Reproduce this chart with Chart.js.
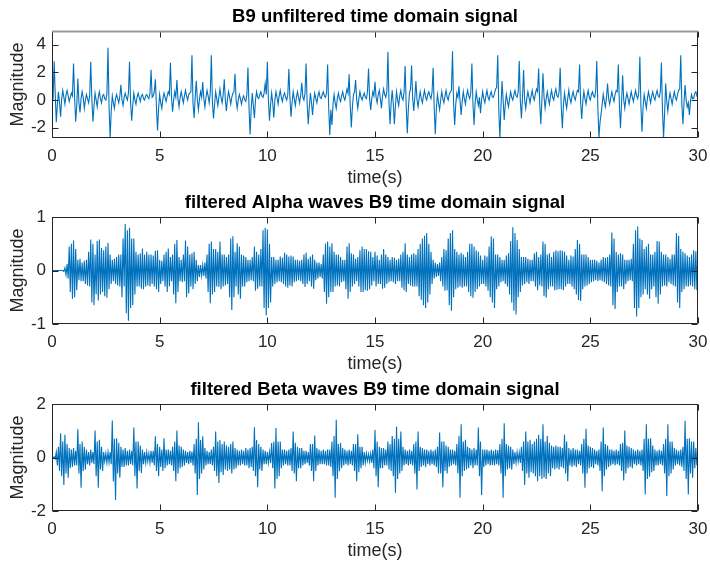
<!DOCTYPE html>
<html lang="en">
<head>
<meta charset="UTF-8">
<title>B9 time domain signals</title>
<script src="https://cdn.jsdelivr.net/npm/chart.js"></script>
<style>
  * { margin: 0; padding: 0; box-sizing: border-box; }
  body { width: 710px; height: 565px; background: #fff; position: relative; overflow: hidden; }
  canvas { position: absolute; left: 0; }
</style>
</head>
<body>
<canvas id="chartRaw" width="710" height="190" style="top:0px"></canvas>
<canvas id="chartAlpha" width="710" height="190" style="top:186px"></canvas>
<canvas id="chartBeta" width="710" height="190" style="top:373px"></canvas>

<script>
// values, one every 0.05 s from 0 to 30 s (one row = 1 s)
const sampleStep = 0.05;

const rawSignal = [
  0.3, 0.1, 2.8, 0.4, -1.6, -0.3, 0.6, -0.2, -1.2, 0.1, 0.7, 0.2, -0.3, 0.4, 0.7, 0.3, -0.1, 0.2, 0.5, 0.3,
  2.65, 0.2, -1.57, -0.4, 1.55, -0.2, -0.9, 0.1, 0.6, 0.2, -0.6, 0.0, 0.4, 0.1, -0.2, 0.3, 2.77, 0.1, -1.57, -0.5,
  0.5, 0.0, -0.5, 0.2, 0.6, 0.1, -0.2, 0.3, 0.4, 0.1, 0.0, 0.4, 3.78, -0.5, -2.75, -0.8, 0.3, -0.2, -0.6, 0.1,
  0.4, 0.1, -0.2, 0.3, 1.1, 0.0, -0.4, 0.2, 0.5, 0.2, 0.0, 0.5, 2.77, -0.2, -1.5, -0.4, 0.5, 0.0, -0.3, 0.2,
  0.5, 0.2, -0.1, 0.3, 0.4, 0.1, 0.0, 0.3, 0.4, 0.2, 0.1, 0.5, 2.2, 0.2, 0.3, 0.6, 1.5, -0.5, -2.2, -0.6,
  0.4, -0.2, -0.6, 0.1, 0.5, 0.2, -0.1, 0.3, 0.6, 0.4, 2.7, 0.2, -0.85, 0.0, 0.6, 0.2, 1.45, 0.1, -0.5, 0.2,
  0.6, 0.2, -0.2, 0.3, 0.7, 0.3, 0.0, 0.4, 0.5, 0.6, 3.25, -0.3, -1.3, 0.2, 1.4, 0.0, -0.7, 0.1, 0.6, 0.2,
  1.3, 0.1, -0.5, 0.2, 0.7, 0.3, -0.2, 0.5, 3.25, -0.2, -1.33, -0.3, 0.6, 0.1, -0.4, 0.2, 0.8, 0.2, -0.2, 0.4,
  1.5, 0.0, -0.8, 0.1, 0.6, 0.2, -0.3, 0.2, 0.5, 0.6, 1.9, 0.0, -0.6, 0.0, 0.4, 0.1, -0.3, 0.1, 0.3, 0.0,
  -0.1, 0.4, 2.35, -0.6, -2.5, -0.6, 0.5, -0.4, -1.3, 0.0, 0.6, 0.2, 0.1, 0.4, 0.6, 0.3, 0.2, 0.5, 1.2, 0.4,
  2.77, 0.0, -1.5, -0.3, 0.5, -0.2, -1.28, 0.0, 0.6, 0.2, -0.3, 0.3, 0.7, 0.2, -0.1, 0.3, 0.5, 0.2, 0.0, 0.4,
  2.24, 0.1, -1.2, -0.2, 0.6, 0.1, -0.4, 0.2, 0.6, 0.2, -0.2, 0.4, 1.25, 0.2, 0.0, 0.5, 2.65, -0.3, -1.76, -0.5,
  0.5, -0.2, -1.08, -0.1, 0.5, 0.1, -0.2, 0.3, 0.6, 0.2, 0.1, 0.4, 0.6, 0.3, 0.2, 0.5, 2.58, -0.6, -2.53, -0.7,
  -1.8, -0.3, 0.4, -0.2, -0.6, 0.1, 0.5, 0.1, -0.1, 0.3, 0.6, 0.2, 0.0, 0.4, 0.8, 0.5, 1.86, -0.4, -1.98, -0.5,
  0.4, 0.6, 1.45, 0.0, -0.6, 0.1, 0.6, 0.2, 0.0, 0.3, 0.5, 0.2, 0.1, 0.6, 2.29, 0.1, -0.72, 0.1, 0.6, 0.3,
  1.33, 0.2, -0.2, 0.4, 0.7, 0.1, -0.6, 0.3, 0.8, 0.4, 0.2, 0.6, 3.5, -0.2, -1.76, -0.2, 0.7, -0.3, -1.76, -0.4,
  0.6, 0.0, -0.4, 0.3, 0.7, 0.2, 0.0, 0.6, 2.46, -0.5, -2.41, -0.6, 0.5, 0.8, 2.5, 0.1, -0.8, 0.2, 1.37, 0.0,
  -0.5, 0.1, 0.6, 0.1, -0.2, 0.3, 0.7, 0.2, 0.0, 0.4, 0.6, 0.3, 0.1, 0.6, 2.34, -0.6, -2.48, -0.6, 0.4, -0.2,
  -0.7, 0.0, 0.6, 0.1, -0.2, 0.3, 0.7, 0.2, 0.0, 0.4, 0.6, 0.7, 3.54, -0.3, -1.8, -0.3, 0.5, 0.2, 1.0, -0.1,
  -1.08, -0.1, 0.6, 0.1, -0.3, 0.3, 0.7, 0.3, 0.1, 0.6, 2.65, -0.3, -1.8, -0.2, 0.6, 0.0, -0.4, 0.2, -0.96, 0.0,
  0.6, 0.1, -0.2, 0.3, 0.7, 0.2, 0.0, 0.4, 0.6, 0.2, 0.2, 0.5, 0.8, 0.9, 3.25, -0.8, -2.75, -0.5, 1.37, 0.0,
  -1.45, -0.3, 0.4, -0.1, -0.5, 0.1, 0.6, 0.2, 0.0, 0.4, 0.7, 0.3, 0.2, 0.6, 2.82, -0.1, -1.33, 0.2, 2.17, 0.0,
  -0.6, 0.1, 0.6, 0.2, -0.2, 0.3, 0.7, 0.2, 0.0, 0.5, 0.8, 0.6, 2.29, -0.3, -1.76, 0.0, 1.93, 0.2, -0.6, 0.1,
  0.6, 0.1, -0.3, 0.3, 0.7, 0.2, 0.0, 0.5, 0.8, 0.3, 0.2, 0.6, 2.34, -0.5, -2.05, -0.4, 0.5, -0.1, -0.6, 0.1,
  0.7, 0.1, -0.2, 0.3, 0.6, 0.2, 0.0, 0.4, 0.7, 0.6, 2.58, -0.2, -1.37, -0.1, 0.6, 0.1, -0.3, 0.3, 0.7, 0.2,
  0.0, 0.4, 0.6, 0.3, 0.2, 0.7, 2.82, -0.6, -2.75, -1.6, -1.0, -0.3, 0.4, -0.1, -0.5, 0.2, 1.2, 0.1, -0.3, 0.2,
  0.6, 0.2, -0.1, 0.4, 0.7, 0.6, 2.58, -0.4, -2.05, -0.2, 1.8, 0.0, -0.6, 0.1, 0.5, 0.1, -0.3, 0.2, 0.6, 0.2,
  -0.1, 0.3, 0.7, 0.3, 0.1, 0.6, 3.13, -0.5, -2.29, -0.5, 0.4, -0.1, -0.6, 0.1, 0.6, 0.2, -0.2, 0.3, 0.6, 0.2,
  0.0, 0.4, 0.7, 0.3, 0.2, 0.6, 2.72, -0.7, -2.75, -0.9, 1.2, -0.1, -0.8, 0.0, 0.5, 0.1, -0.3, 0.2, 0.6, 0.2,
  0.0, 0.4, 0.7, 0.8, 3.25, -0.3, -1.76, -0.2, 1.08, 0.0, -0.5, -0.2, -1.08, -0.1, 0.4, 0.1, 0.1, 0.5, 0.6, 0.3,
  0.4
];

const alphaSignal = [
  0, 0, 0, 0, 0, 0, 0, 0, 0, 0, 0, -0.02, 0.05, -0.08, 0.12, -0.15, 0.45, -0.4, 0.5, -0.53,
  0.56, -0.5, 0.4, -0.37, 0.2, -0.18, 0.22, -0.2, 0.15, -0.2, 0.18, -0.25, 0.2, -0.28, 0.35, -0.3, 0.58, -0.6, 0.5, -0.65,
  0.3, -0.45, 0.55, -0.56, 0.58, -0.45, 0.42, -0.4, 0.38, -0.48, 0.45, -0.51, 0.52, -0.35, 0.3, -0.25, 0.2, -0.2, 0.22, -0.25,
  0.25, -0.28, 0.3, -0.3, 0.3, -0.5, 0.6, -0.3, 0.87, -0.8, 0.75, -0.94, 0.8, -0.7, 0.6, -0.65, 0.6, -0.45, 0.35, -0.3,
  0.3, -0.3, 0.32, -0.34, 0.41, -0.35, 0.3, -0.3, 0.35, -0.28, 0.3, -0.3, 0.3, -0.25, 0.28, -0.3, 0.37, -0.35, 0.38, -0.4,
  0.2, -0.25, 0.18, -0.2, 0.3, -0.3, 0.35, -0.4, 0.41, -0.3, 0.25, -0.2, 0.3, -0.45, 0.5, -0.61, 0.57, -0.4, 0.25, -0.2,
  0.2, -0.22, 0.3, -0.2, 0.56, -0.5, 0.45, -0.43, 0.3, -0.3, 0.32, -0.35, 0.35, -0.25, 0.2, -0.2, 0.1, -0.12, 0.1, -0.1,
  0.1, -0.1, 0.15, -0.15, 0.3, -0.4, 0.5, -0.61, 0.54, -0.45, 0.4, -0.4, 0.4, -0.3, 0.35, -0.31, 0.54, -0.35, 0.3, -0.3,
  0.3, -0.28, 0.25, -0.25, 0.3, -0.5, 0.6, -0.74, 0.64, -0.5, 0.35, -0.3, 0.51, -0.45, 0.45, -0.53, 0.3, -0.3, 0.28, -0.3,
  0.25, -0.22, 0.2, -0.2, 0.2, -0.18, 0.25, -0.2, 0.45, -0.38, 0.35, -0.34, 0.3, -0.3, 0.4, -0.3, 0.75, -0.7, 0.8, -0.84,
  0.77, -0.7, 0.5, -0.6, 0.25, -0.3, 0.25, -0.25, 0.2, -0.22, 0.2, -0.2, 0.26, -0.22, 0.24, -0.25, 0.33, -0.3, 0.3, -0.32,
  0.26, -0.28, 0.28, -0.3, 0.26, -0.22, 0.2, -0.2, 0.2, -0.18, 0.18, -0.2, 0.2, -0.25, 0.3, -0.31, 0.33, -0.25, 0.22, -0.2,
  0.26, -0.3, 0.3, -0.34, 0.2, -0.18, 0.15, -0.15, 0.15, -0.12, 0.12, -0.15, 0.3, -0.4, 0.5, -0.62, 0.54, -0.5, 0.45, -0.4,
  0.51, -0.4, 0.35, -0.3, 0.3, -0.28, 0.3, -0.3, 0.25, -0.22, 0.2, -0.2, 0.2, -0.35, 0.45, -0.53, 0.51, -0.4, 0.32, -0.3,
  0.3, -0.25, 0.22, -0.2, 0.25, -0.3, 0.38, -0.4, 0.45, -0.4, 0.4, -0.37, 0.4, -0.38, 0.36, -0.35, 0.35, -0.28, 0.25, -0.2,
  0.35, -0.3, 0.28, -0.25, 0.2, -0.25, 0.3, -0.34, 0.4, -0.32, 0.3, -0.25, 0.25, -0.22, 0.2, -0.2, 0.25, -0.22, 0.24, -0.25,
  0.2, -0.2, 0.22, -0.2, 0.3, -0.32, 0.35, -0.37, 0.51, -0.4, 0.3, -0.25, 0.25, -0.28, 0.3, -0.3, 0.32, -0.3, 0.3, -0.3,
  0.4, -0.48, 0.5, -0.55, 0.6, -0.65, 0.65, -0.7, 0.7, -0.6, 0.5, -0.45, 0.35, -0.25, 0.2, -0.15, 0.15, -0.12, 0.12, -0.1,
  0.15, -0.2, 0.25, -0.3, 0.4, -0.38, 0.38, -0.37, 0.6, -0.65, 0.7, -0.75, 0.75, -0.5, 0.4, -0.35, 0.35, -0.32, 0.3, -0.3,
  0.33, -0.32, 0.3, -0.3, 0.25, -0.3, 0.35, -0.4, 0.5, -0.48, 0.5, -0.51, 0.45, -0.4, 0.38, -0.35, 0.35, -0.3, 0.28, -0.25,
  0.2, -0.25, 0.28, -0.3, 0.26, -0.38, 0.45, -0.5, 0.64, -0.6, 0.6, -0.7, 0.3, -0.35, 0.3, -0.3, 0.25, -0.22, 0.2, -0.2,
  0.2, -0.25, 0.28, -0.3, 0.32, -0.45, 0.55, -0.6, 0.81, -0.75, 0.7, -0.82, 0.57, -0.5, 0.4, -0.4, 0.25, -0.28, 0.25, -0.25,
  0.25, -0.22, 0.22, -0.25, 0.2, -0.2, 0.2, -0.2, 0.32, -0.3, 0.35, -0.37, 0.25, -0.28, 0.3, -0.3, 0.54, -0.48, 0.5, -0.51,
  0.3, -0.35, 0.32, -0.3, 0.25, -0.3, 0.35, -0.37, 0.38, -0.36, 0.36, -0.35, 0.38, -0.35, 0.37, -0.37, 0.35, -0.3, 0.28, -0.25,
  0.2, -0.25, 0.28, -0.3, 0.26, -0.35, 0.4, -0.45, 0.57, -0.55, 0.5, -0.57, 0.3, -0.35, 0.3, -0.3, 0.3, -0.28, 0.25, -0.25,
  0.2, -0.22, 0.2, -0.2, 0.2, -0.18, 0.18, -0.2, 0.15, -0.18, 0.2, -0.2, 0.25, -0.22, 0.24, -0.25, 0.25, -0.28, 0.3, -0.3,
  0.71, -0.65, 0.6, -0.72, 0.35, -0.4, 0.3, -0.3, 0.32, -0.3, 0.3, -0.35, 0.2, -0.25, 0.2, -0.2, 0.2, -0.18, 0.22, -0.2,
  0.5, -0.7, 0.75, -0.86, 0.82, -0.7, 0.6, -0.5, 0.57, -0.45, 0.4, -0.35, 0.45, -0.45, 0.5, -0.53, 0.3, -0.35, 0.3, -0.3,
  0.35, -0.5, 0.55, -0.62, 0.54, -0.45, 0.35, -0.3, 0.3, -0.28, 0.3, -0.3, 0.25, -0.22, 0.22, -0.25, 0.3, -0.28, 0.3, -0.3,
  0.7, -0.6, 0.65, -0.7, 0.4, -0.4, 0.35, -0.35, 0.32, -0.3, 0.28, -0.3, 0.25, -0.28, 0.3, -0.3, 0.38, -0.35, 0.36, -0.37,
  0.48
];

const betaSignal = [
  0, -0.02, 0.03, -0.05, 0.2, -0.3, 0.4, -0.5, 0.91, -0.7, 0.6, -1.03, 0.85, -0.6, 0.5, -0.76, 0.35, -0.4, 0.3, -0.35,
  0.35, -0.3, 0.25, -0.3, 1.06, -0.6, 0.5, -1.13, 0.6, -0.5, 0.4, -0.45, 0.3, -0.25, 0.2, -0.3, 0.3, -0.2, 0.2, -0.25,
  1.01, -0.7, 0.6, -1.13, 0.66, -0.45, 0.4, -0.5, 0.2, -0.15, 0.15, -0.2, 0.2, -0.18, 0.2, -0.25, 1.38, -0.9, 0.7, -1.59,
  0.72, -0.6, 0.55, -0.76, 0.4, -0.35, 0.3, -0.35, 0.35, -0.3, 0.25, -0.3, 0.3, -0.25, 0.25, -0.3, 1.12, -0.7, 0.6, -1.16,
  0.6, -0.5, 0.45, -0.58, 0.3, -0.25, 0.2, -0.2, 0.2, -0.15, 0.15, -0.2, 0.25, -0.2, 0.25, -0.3, 0.79, -0.5, 0.5, -0.7,
  0.4, -0.35, 0.3, -0.5, 0.72, -0.4, 0.3, -0.3, 0.3, -0.25, 0.25, -0.3, 0.4, -0.5, 0.6, -0.89, 1.01, -0.6, 0.45, -0.4,
  0.4, -0.35, 0.3, -0.3, 0.25, -0.2, 0.2, -0.25, 0.25, -0.2, 0.22, -0.3, 0.5, -0.6, 0.7, -1.4, 1.32, -0.8, 0.65, -0.6,
  0.79, -0.45, 0.35, -0.3, 0.25, -0.25, 0.2, -0.25, 0.3, -0.3, 0.4, -0.5, 0.97, -0.7, 0.6, -0.95, 0.65, -0.55, 0.5, -0.65,
  0.6, -0.45, 0.45, -0.5, 0.4, -0.45, 0.5, -0.6, 0.6, -0.45, 0.35, -0.4, 0.3, -0.3, 0.25, -0.3, 0.3, -0.25, 0.25, -0.3,
  0.35, -0.3, 0.3, -0.4, 0.35, -0.35, 0.4, -0.5, 1.13, -0.7, 0.65, -1.11, 0.5, -0.45, 0.4, -0.5, 0.3, -0.25, 0.25, -0.25,
  0.2, -0.2, 0.2, -0.2, 0.54, -0.4, 0.6, -1.16, 1.1, -0.8, 0.6, -0.7, 0.6, -0.4, 0.3, -0.3, 0.3, -0.25, 0.25, -0.3,
  0.3, -0.3, 0.35, -0.5, 0.97, -0.6, 0.55, -0.89, 0.4, -0.4, 0.35, -0.4, 0.35, -0.3, 0.25, -0.25, 0.25, -0.2, 0.2, -0.3,
  0.5, -0.5, 0.5, -0.89, 0.82, -0.5, 0.35, -0.3, 0.3, -0.25, 0.25, -0.25, 0.3, -0.25, 0.25, -0.3, 0.3, -0.3, 0.3, -0.35,
  0.6, -0.7, 0.8, -1.5, 1.41, -0.8, 0.5, -0.51, 0.54, -0.4, 0.35, -0.3, 0.3, -0.25, 0.25, -0.3, 0.3, -0.25, 0.25, -0.3,
  0.5, -0.5, 0.5, -0.89, 0.87, -0.55, 0.4, -0.4, 0.4, -0.3, 0.2, -0.2, 0.15, -0.12, 0.12, -0.15, 0.15, -0.2, 0.3, -0.4,
  1.03, -0.7, 0.6, -1.11, 0.4, -0.4, 0.35, -0.4, 0.35, -0.3, 0.3, -0.3, 0.6, -0.45, 0.5, -0.5, 0.8, -0.7, 0.7, -1.32,
  1.16, -0.8, 0.7, -0.6, 0.97, -0.5, 0.4, -0.3, 0.3, -0.25, 0.25, -0.3, 0.3, -0.25, 0.25, -0.3, 0.5, -0.6, 0.6, -1.2,
  0.97, -0.5, 0.4, -0.35, 0.35, -0.3, 0.3, -0.35, 0.3, -0.25, 0.25, -0.3, 0.3, -0.25, 0.25, -0.3, 0.3, -0.35, 0.4, -0.6,
  0.93, -0.6, 0.6, -1.11, 0.6, -0.5, 0.45, -0.6, 0.4, -0.35, 0.3, -0.3, 0.3, -0.25, 0.25, -0.3, 0.5, -0.6, 0.8, -1.5,
  1.24, -0.7, 0.6, -0.5, 0.66, -0.45, 0.4, -0.4, 0.35, -0.3, 0.3, -0.4, 0.35, -0.3, 0.3, -0.3, 1.12, -0.7, 0.6, -1.4,
  0.3, -0.35, 0.3, -0.3, 0.3, -0.25, 0.25, -0.3, 0.3, -0.28, 0.25, -0.3, 0.3, -0.25, 0.28, -0.3, 0.5, -0.6, 0.7, -1.5,
  1.28, -0.7, 0.5, -0.45, 0.45, -0.4, 0.4, -0.45, 0.3, -0.25, 0.2, -0.2, 0.2, -0.15, 0.18, -0.2, 0.4, -0.5, 0.6, -1.03,
  0.97, -0.6, 0.6, -0.76, 0.66, -0.55, 0.5, -0.6, 0.6, -0.7, 0.7, -0.89, 0.85, -0.7, 0.7, -0.8, 1.24, -0.75, 0.6, -0.8,
  0.8, -0.6, 0.55, -0.7, 0.45, -0.4, 0.4, -0.45, 0.45, -0.4, 0.4, -0.45, 0.4, -0.35, 0.35, -0.4, 0.85, -0.6, 0.6, -0.89,
  0.35, -0.3, 0.3, -0.35, 0.35, -0.3, 0.3, -0.35, 0.3, -0.25, 0.25, -0.3, 0.5, -0.6, 0.7, -1.13, 1.07, -0.6, 0.45, -0.4,
  0.4, -0.35, 0.35, -0.4, 0.3, -0.25, 0.25, -0.3, 0.3, -0.5, 0.6, -1.26, 1.12, -0.7, 0.5, -0.45, 0.45, -0.35, 0.3, -0.3,
  0.3, -0.25, 0.25, -0.3, 0.3, -0.25, 0.25, -0.3, 0.5, -0.5, 0.55, -0.86, 1.01, -0.6, 0.45, -0.4, 0.4, -0.35, 0.35, -0.4,
  0.3, -0.25, 0.25, -0.3, 0.3, -0.25, 0.25, -0.3, 0.3, -0.5, 0.7, -1.38, 1.24, -0.8, 0.7, -0.72, 0.72, -0.55, 0.45, -0.5,
  0.3, -0.3, 0.25, -0.3, 0.3, -0.25, 0.25, -0.3, 0.5, -0.6, 0.7, -1.44, 1.24, -0.7, 0.6, -0.6, 0.6, -0.45, 0.35, -0.3,
  0.3, -0.25, 0.25, -0.3, 0.3, -0.35, 0.4, -0.5, 1.37, -0.8, 0.7, -1.38, 0.72, -0.6, 0.6, -0.76, 0.6, -0.4, 0.35, -0.3,
  0.3
];

const sampleTimes = rawSignal.map((_, i) => +(i * sampleStep).toFixed(2));

const xTicks = [0, 5, 10, 15, 20, 25, 30];
const rawTicks = [-2, 0, 2, 4];
const alphaTicks = [-1, 0, 1];
const betaTicks = [-2, 0, 2];

const fontFamily = "'Liberation Sans', Arial, Helvetica, sans-serif";
const axisColor = '#262626';

// MATLAB style box with inward ticks on all four sides
const matlabBox = {
  id: 'matlabBox',
  afterDatasetsDraw(chart, args, opts) {
    const { ctx, chartArea: a, scales: { x, y } } = chart;
    const c = v => Math.round(v) + 0.5;
    const len = 6;
    const L = c(a.left), R = c(a.right - 1), T = c(a.top), B = c(a.bottom - 1);
    ctx.save();
    ctx.lineWidth = 1;
    ctx.strokeStyle = axisColor;
    ctx.beginPath();
    x.ticks.forEach(t => {
      const px = c(x.getPixelForValue(t.value));
      ctx.moveTo(px, B); ctx.lineTo(px, B - len);
      ctx.moveTo(px, T); ctx.lineTo(px, T + len);
    });
    y.ticks.forEach(t => {
      const py = c(y.getPixelForValue(t.value));
      ctx.moveTo(L, py); ctx.lineTo(L + len, py);
      ctx.moveTo(R, py); ctx.lineTo(R - len, py);
    });
    ctx.moveTo(L, T); ctx.lineTo(L, B); ctx.lineTo(R, B); ctx.lineTo(R, T);
    ctx.stroke();
    ctx.beginPath();
    ctx.strokeStyle = opts.topColor || axisColor;
    ctx.lineWidth = opts.topWidth || 1;
    ctx.moveTo(L - 0.5, T); ctx.lineTo(R + 0.5, T);
    ctx.stroke();
    ctx.restore();
  }
};

function makeChart(id, title, values, yMin, yMax, yTicks, topColor, topWidth) {
  return new Chart(document.getElementById(id), {
    type: 'line',
    data: {
      datasets: [{
        data: values.map((v, i) => ({ x: sampleTimes[i], y: v })),
        borderColor: '#0072BD',
        borderWidth: 1.1,
        pointRadius: 0,
        tension: 0
      }]
    },
    options: {
      responsive: false,
      animation: false,
      devicePixelRatio: 1,
      layout: { padding: { left: 0, right: 12, top: 0, bottom: 0 } },
      plugins: {
        legend: { display: false },
        tooltip: { enabled: false },
        title: {
          display: true,
          text: title,
          fullSize: false,
          color: '#000',
          font: { family: fontFamily, size: 18.5, weight: 'bold', lineHeight: 1.2 },
          padding: { top: 6, bottom: 2.8 }
        },
        matlabBox: { topColor, topWidth }
      },
      scales: {
        x: {
          type: 'linear',
          min: 0,
          max: 30,
          grid: { display: false, drawTicks: false },
          border: { display: false },
          afterBuildTicks: s => { s.ticks = xTicks.map(v => ({ value: v })); },
          afterFit: s => { s.height = 52; s.paddingLeft = 0; s.paddingRight = 0; },
          ticks: { color: axisColor, font: { family: fontFamily, size: 17 }, padding: 8, maxRotation: 0, autoSkip: false },
          title: { display: true, text: 'time(s)', color: axisColor, font: { family: fontFamily, size: 18 }, padding: { top: 0, bottom: 1 } }
        },
        y: {
          min: yMin,
          max: yMax,
          grid: { display: false, drawTicks: false },
          border: { display: false },
          afterBuildTicks: s => { s.ticks = yTicks.map(v => ({ value: v })); },
          afterFit: s => { s.width = 52; s.paddingTop = 0; s.paddingBottom = 0; },
          ticks: { color: axisColor, font: { family: fontFamily, size: 17 }, padding: 6, autoSkip: false },
          title: { display: true, text: 'Magnitude', color: axisColor, font: { family: fontFamily, size: 18 }, padding: { top: 7, bottom: 0 } }
        }
      }
    },
    plugins: [matlabBox]
  });
}

makeChart('chartRaw', 'B9 unfiltered time domain signal', rawSignal, -2.75, 5, rawTicks, '#999999', 2);
makeChart('chartAlpha', 'filtered Alpha waves B9 time domain signal', alphaSignal, -1, 1, alphaTicks);
makeChart('chartBeta', 'filtered Beta waves B9 time domain signal', betaSignal, -2, 2, betaTicks);
</script>
</body>
</html>
